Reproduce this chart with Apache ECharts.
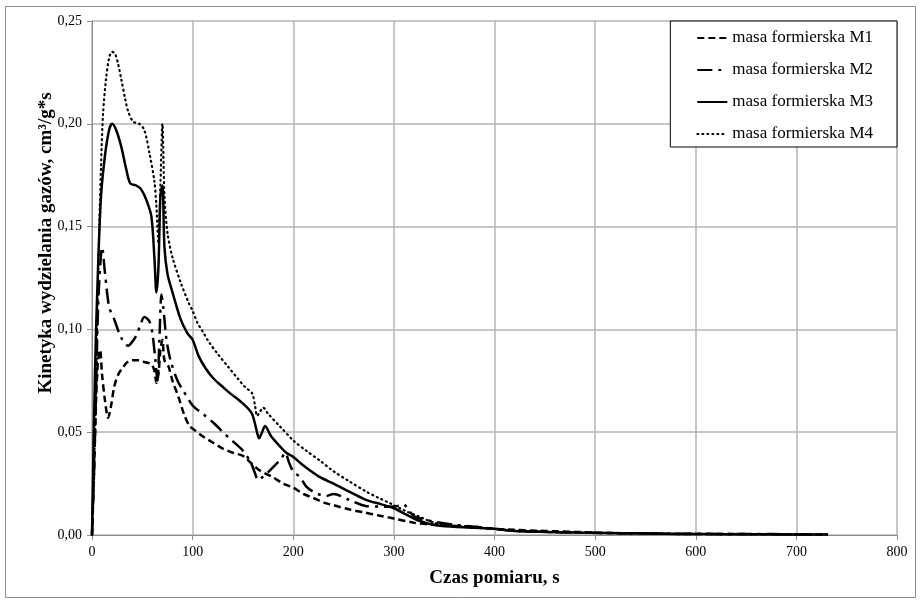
<!DOCTYPE html>
<html>
<head>
<meta charset="utf-8">
<script src="https://cdn.jsdelivr.net/npm/echarts@6/dist/echarts.min.js"></script>
<style>
  html, body { margin: 0; padding: 0; background: #fff; }
  #chart { width: 922px; height: 605px; }
</style>
</head>
<body>
<div id="chart"></div>
<script>
// czas pomiaru [s] i kinetyka [cm3/g*s] dla kazdej masy
const m1Time = [0,2,4,6,8,10,13,16,19,22,26,30,35,40,47,53,59,62,64,66,68,70,72,76,80,86,92,97,102,110,120,130,140,150,158,165,172,180,190,200,210,220,232,240,255,270,285,300,320,340,360,380,400,420,450,480,510,540,570,600,630,660,690,710,731]
const m1Val = [0,0.03,0.065,0.085,0.09,0.078,0.065,0.057,0.063,0.072,0.078,0.081,0.084,0.085,0.085,0.084,0.083,0.08,0.074,0.078,0.09,0.095,0.085,0.082,0.075,0.067,0.058,0.053,0.051,0.048,0.045,0.042,0.040,0.0385,0.035,0.032,0.030,0.028,0.025,0.023,0.020,0.018,0.0155,0.0145,0.0125,0.011,0.0095,0.008,0.006,0.005,0.0045,0.004,0.003,0.0025,0.002,0.0015,0.001,0.0008,0.0006,0.0005,0.0005,0.0004,0.0004,0.0003,0.0003]

const m2Time = [0,2,4,6,8,10,13,17,22,29,36,40,44,48,52,57,60,63,65,67,69,71,74,78,85,91,100,110,122,130,139,150,158,162,165,169,174,182,188,192,196,200,207,213,220,227,233,240,256,273,290,303,309,315,320,340,360,380,400,420,450,480,510,540,570,600,630,660,690,731]
const m2Val = [0,0.03,0.07,0.11,0.13,0.14,0.127,0.111,0.105,0.096,0.092,0.094,0.097,0.102,0.106,0.104,0.098,0.085,0.075,0.095,0.117,0.11,0.095,0.085,0.075,0.07,0.063,0.059,0.054,0.050,0.046,0.041,0.035,0.030,0.0267,0.028,0.030,0.034,0.037,0.040,0.035,0.031,0.028,0.0235,0.021,0.0195,0.019,0.020,0.017,0.014,0.0138,0.014,0.015,0.012,0.009,0.0065,0.005,0.004,0.003,0.002,0.0015,0.0012,0.001,0.0008,0.0007,0.0006,0.0005,0.0005,0.0004,0.0003]

const m3Time = [0,3,6,9,13,17,20,24,29,34,38,44,49,54,59,62,64,66,68,70,72,75,80,88,95,100,106,113,121,130,137,145,152,159,163,166,169,172,178,187,193,200,207,215,227,240,256,273,287,300,312,323,339,360,380,400,420,450,480,510,540,570,600,630,660,690,731]
const m3Val = [0,0.08,0.13,0.165,0.185,0.197,0.2,0.197,0.189,0.178,0.171,0.170,0.168,0.163,0.155,0.135,0.118,0.13,0.165,0.17,0.14,0.127,0.118,0.105,0.098,0.095,0.087,0.081,0.076,0.072,0.069,0.066,0.063,0.059,0.052,0.047,0.05,0.053,0.048,0.043,0.040,0.038,0.035,0.032,0.028,0.025,0.021,0.017,0.015,0.013,0.010,0.0073,0.005,0.004,0.0035,0.003,0.002,0.0015,0.0012,0.001,0.0008,0.0006,0.0005,0.0004,0.0004,0.0003,0.0003]

const m4Time = [0,3,5,7,9,11,14,17,20,23,26,29,33,36,41,47,52,57,62,64,66,68,70,72,75,80,88,96,100,105,110,116,125,135,145,152,159,162,164,167,170,175,187,200,213,227,240,256,273,285,296,310,325,340,360,380,400,420,450,480,510,540,570,600,630,660,690,731]
const m4Val = [0,0.05,0.1,0.145,0.18,0.205,0.222,0.232,0.235,0.234,0.229,0.222,0.212,0.206,0.201,0.200,0.197,0.186,0.172,0.16,0.142,0.17,0.20,0.165,0.147,0.135,0.123,0.113,0.109,0.103,0.099,0.094,0.088,0.082,0.076,0.072,0.069,0.063,0.058,0.06,0.062,0.059,0.0527,0.046,0.041,0.036,0.031,0.026,0.021,0.018,0.0155,0.012,0.009,0.006,0.0045,0.0035,0.003,0.002,0.0015,0.0012,0.001,0.0008,0.0006,0.0005,0.0004,0.0004,0.0003,0.0003]

const seriesNames = ['masa formierska M1', 'masa formierska M2', 'masa formierska M3', 'masa formierska M4']
const xTicks = [0, 100, 200, 300, 400, 500, 600, 700, 800]
const yTicks = [0, 0.05, 0.10, 0.15, 0.20, 0.25]

const font = 'Liberation Serif'

function pairs(t, v) {
  return t.map((x, i) => [x, v[i]])
}

const chart = echarts.init(document.getElementById('chart'))

const lineStyles = [
  { color: '#000', width: 2.5, type: [7, 4] },          // M1 krotka kreska
  { color: '#000', width: 2.5, type: [15, 6, 3, 6] },   // M2 dluga kreska
  { color: '#000', width: 2.5, type: 'solid' },         // M3 ciagla
  { color: '#000', width: 2.2, type: [1, 4], cap: 'round' } // M4 kropki
]
const allData = [pairs(m1Time, m1Val), pairs(m2Time, m2Val), pairs(m3Time, m3Val), pairs(m4Time, m4Val)]

const option = {
  animation: false,
  backgroundColor: '#fff',
  graphic: [{
    type: 'rect',
    shape: { x: 5.5, y: 6.5, width: 910, height: 591 },
    style: { fill: 'none', stroke: '#8c8c8c', lineWidth: 1 },
    silent: true
  }],
  grid: { left: 92, right: 25, top: 21, bottom: 70 },
  legend: {
    orient: 'vertical',
    right: 25,
    top: 21,
    padding: [8, 24, 4, 26],
    itemGap: 14,
    itemWidth: 30,
    itemHeight: 14,
    backgroundColor: '#fff',
    borderColor: '#000',
    borderWidth: 1,
    itemStyle: { color: 'transparent', borderWidth: 0 },
    textStyle: { fontFamily: font, fontSize: 17, color: '#000', lineHeight: 18 },
    data: seriesNames
  },
  xAxis: {
    type: 'value',
    min: xTicks[0],
    max: xTicks[xTicks.length - 1],
    interval: 100,
    name: 'Czas pomiaru, s',
    nameLocation: 'middle',
    nameGap: 34,
    nameMoveOverlap: false,
    nameTextStyle: { fontFamily: font, fontSize: 19, fontWeight: 'bold', color: '#000' },
    axisLine: { lineStyle: { color: '#8c8c8c' } },
    axisTick: { show: true, length: 5, lineStyle: { color: '#8c8c8c' } },
    axisLabel: { fontFamily: font, fontSize: 14, color: '#000', margin: 10 },
    splitLine: { lineStyle: { color: '#b4b4b4', width: 1.5 } }
  },
  yAxis: {
    type: 'value',
    min: yTicks[0],
    max: yTicks[yTicks.length - 1],
    interval: 0.05,
    name: 'Kinetyka wydzielania gazów, cm³/g*s',
    nameLocation: 'middle',
    nameRotate: 90,
    nameGap: 36,
    nameMoveOverlap: false,
    nameTextStyle: { fontFamily: font, fontSize: 19, fontWeight: 'bold', color: '#000', padding: [0, 0, 0, 70] },
    axisLine: { show: true, lineStyle: { color: '#8c8c8c' } },
    axisTick: { show: true, length: 5, lineStyle: { color: '#8c8c8c' } },
    axisLabel: {
      fontFamily: font, fontSize: 14, color: '#000', margin: 10,
      formatter: (v) => v.toFixed(2).replace('.', ',')
    },
    splitLine: { lineStyle: { color: '#b4b4b4', width: 1.5 } }
  },
  series: seriesNames.map((name, i) => ({
    name: name,
    type: 'line',
    data: allData[i],
    smooth: 0.3,
    symbol: 'none',
    lineStyle: lineStyles[i],
    itemStyle: { color: '#000' },
    z: 10 - i
  }))
}

chart.setOption(option)
</script>
</body>
</html>
